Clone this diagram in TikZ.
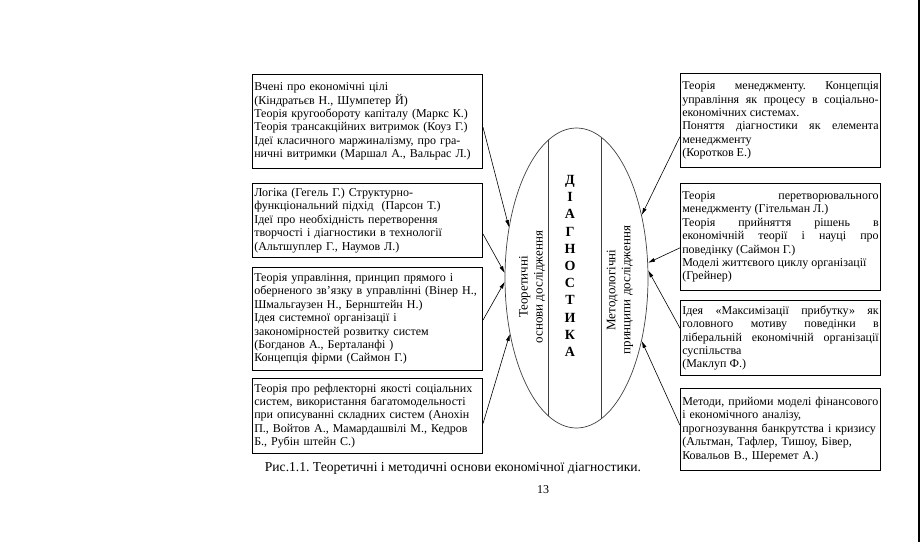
\documentclass[tikz,border=0pt]{standalone}
\usepackage{fontspec}
\setmainfont{Liberation Serif}
\usetikzlibrary{shapes.geometric,arrows.meta,calc}
\frenchspacing
\begin{document}
\begin{tikzpicture}[x=1pt,y=-1pt,
  box/.style={draw, line width=1pt, inner xsep=1.8pt, inner ysep=3pt, anchor=north west,
    font=\fontsize{12}{13.4}\selectfont},
  lbox/.style={box, text width=226.4pt, align=left},
  rbox/.style={box, text width=196.4pt, align=justify},
  rboxl/.style={box, text width=196.4pt, align=left},
  arr/.style={line width=0.6pt, -{Latex[length=7pt,width=4pt]}},
  vtext/.style={rotate=90, align=center, font=\fontsize{13}{15}\selectfont},
]
\fill[white] (0,0) rectangle (922,542);
\useasboundingbox (0,0) rectangle (922,542);

% left boxes
\node[lbox, minimum height=94pt] (L1) at (252,74) {Вчені про економічні цілі\\
(Кіндратьєв Н., Шумпетер Й)\\
Теорія кругообороту капіталу (Маркс К.)\\
Теорія трансакційних витримок (Коуз Г.)\\
Ідеї класичного маржиналізму, про гра-\\
ничні витримки (Маршал А., Вальрас Л.)};

\node[lbox, minimum height=74pt] (L2) at (252,183) {Логіка (Гегель Г.) Структурно-\\
функціональний підхід~ (Парсон Т.)\\
Ідеї про необхідність перетворення\\
творчості і діагностики в технології\\
(Альтшуплер Г., Наумов Л.)};

\node[lbox, minimum height=103pt] (L3) at (252,267) {Теорія управління, принцип прямого і\\
оберненого зв’язку в управлінні (Вінер Н.,\\
Шмальгаузен Н., Бернштейн Н.)\\
Ідея системної організації і\\
закономірностей розвитку систем\\
(Богданов А., Берталанфі )\\
Концепція фірми (Саймон Г.)};

\node[lbox, minimum height=75pt] (L4) at (252,378) {Теорія про рефлекторні якості соціальних\\
систем, використання багатомодельності\\
при описуванні складних систем (Анохін\\
П., Войтов А., Мамардашвілі М., Кедров\\
Б., Рубін штейн С.)};

% right boxes
\node[rbox, minimum height=94pt] (R1) at (680,73) {Теорія менеджменту. Концепція\linebreak
управління як процесу в соціально-\linebreak
економічних системах.\\
Поняття діагностики як елемента\linebreak
менеджменту\\
(Коротков Е.)};

\node[rbox, minimum height=107pt] (R2) at (680,183) {Теорія перетворювального\linebreak
менеджменту (Гітельман Л.)\\
Теорія прийняття рішень в\linebreak
економічній теорії і науці про\linebreak
поведінку (Саймон Г.)\\
Моделі життєвого циклу організації\\
(Грейнер)};

\node[rbox, minimum height=75pt] (R3) at (680,300) {Ідея «Максимізації прибутку» як\linebreak
головного мотиву поведінки в\linebreak
ліберальній економічній організації\linebreak
суспільства\\
(Маклуп Ф.)};

\node[rboxl, minimum height=82pt] (R4) at (680,388) {Методи, прийоми моделі фінансового\\
і економічного аналізу,\\
прогнозування банкрутства і кризису\\
(Альтман, Тафлер, Тишоу, Бівер,\\
Ковальов В., Шеремет А.)};

% central ellipse
\node[ellipse, draw=black!75, line width=0.7pt, minimum width=143pt, minimum height=300pt,
  inner sep=0pt,
  path picture={
    \draw[line width=0.7pt] ([xshift=-28.5pt]path picture bounding box.north) -- ([xshift=-28.5pt]path picture bounding box.south);
    \draw[line width=0.7pt] ([xshift=24.5pt]path picture bounding box.north) -- ([xshift=24.5pt]path picture bounding box.south);
  }] (E) at (576.5,278) {};

\node[align=center, font=\fontsize{14}{17.2}\selectfont\bfseries] (D) at (570,266)
  {Д\\І\\А\\Г\\Н\\О\\С\\Т\\И\\К\\А};
\node[vtext] (T) at (532,287) {Теоретичні\\основи дослідження};
\node[vtext] (M) at (620,290) {Методологічні\\принципи дослідження};

% arrows
\draw[arr] ($(L1.north east)!0.56!(L1.south east)$) -- (E.143);
\draw[arr] ($(L2.north east)!0.68!(L2.south east)$) -- (E.176);
\draw[arr] ($(L3.north east)!0.51!(L3.south east)$) -- (E.183);
\draw[arr] ($(L4.north east)!0.60!(L4.south east)$) -- (E.220);
\draw[arr] ($(R1.north west)!0.67!(R1.south west)$) -- (E.44);
\draw[arr] ($(R2.north west)!0.60!(R2.south west)$) -- (E.12);
\draw[arr] ($(R3.north west)!0.37!(R3.south west)$) -- (E.6.5);
\draw[arr] ($(R4.north west)!0.45!(R4.south west)$) -- (E.316);

% caption
\node[font=\fontsize{13.6}{16}\selectfont] (C) at (453,468)
  {Рис.1.1. Теоретичні і методичні основи економічної діагностики.};
\node[font=\fontsize{12}{14}\selectfont] (P) at (543,490) {13};

\draw[line width=2pt] (919,0) -- (919,542);
\end{tikzpicture}
\end{document}
